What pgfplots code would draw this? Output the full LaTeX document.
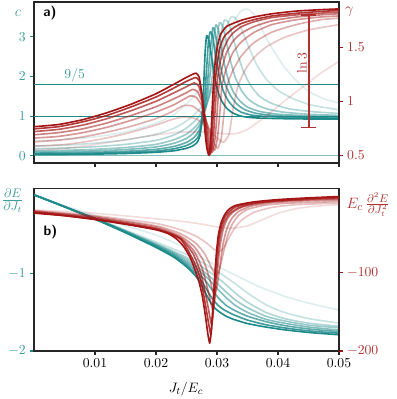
\documentclass[border=0pt]{standalone}
\usepackage{pgfplots}
\pgfplotsset{compat=1.18}

\definecolor{tealc}{HTML}{1E8A8A}
\definecolor{redc}{HTML}{A51515}
\definecolor{tealt}{HTML}{3E9C9C}
\definecolor{redt}{HTML}{B03030}

\pgfplotsset{
  panel/.style={
    width=244pt, scale only axis,
    xmin=0, xmax=50, xtick={10,20,30,40,50},
    tick align=outside, major tick length=3pt,
    axis line style={line width=1.1pt, black!85},
    x tick style={line width=0.9pt, black!85},
    ticklabel style={font=\fontsize{11}{13}\selectfont},
    clip mode=individual,
  },
  lefty/.style={xtick pos=bottom, ytick pos=left,
    y tick style={line width=0.9pt, tealc}, yticklabel style={text=tealt}},
  righty/.style={axis y line*=right, axis x line=none,
    y tick style={line width=0.9pt, redc}, yticklabel style={text=redt}},
  tc/.style={tealc, line width=1.3pt, opacity=#1, line join=round, smooth, tension=0.35},
  rc/.style={redc, line width=1.3pt, opacity=#1, line join=round, smooth, tension=0.35},
}

\begin{document}
\begin{tikzpicture}

% ---------- a) top panel, c (left) ----------
\begin{axis}[panel, lefty, at={(0,0)}, anchor=north west, height=128.8pt,
  ymin=-0.18, ymax=3.88, ytick={0,1,2,3}, xticklabels={}]
  \addplot[tealc, opacity=0.55, line width=0.8pt] coordinates {(0,0) (50,0)};
  \addplot[tealc, line width=0.8pt] coordinates {(0,1) (50,1)};
  \addplot[tealc, line width=0.8pt] coordinates {(0,1.8) (50,1.8)};

  \addplot[tc=0.15] coordinates {(0,0.38)(5,0.41)(10,0.48)(15,0.6)(20,0.82)(23,1.05)(25.6,1.4)(28,1.85)(30,2.4)(31.5,2.9)(32.8,3.4)(34,3.66)(35,3.7)(36,3.58)(37.2,3.25)(38.3,2.9)(39.5,2.6)(41,2.25)(43,1.9)(45,1.63)(47.5,1.44)(50,1.33)};
  \addplot[tc=0.25] coordinates {(0,0.25)(5,0.27)(10,0.32)(15,0.4)(20,0.54)(23,0.7)(25,0.88)(27,1.15)(28.5,1.5)(29.8,2.05)(30.8,2.7)(31.6,3.25)(32.3,3.5)(33,3.48)(34,3.2)(35.2,2.75)(36.5,2.3)(38,1.95)(40,1.65)(42.5,1.44)(45.5,1.28)(50,1.16)};
  \addplot[tc=0.35] coordinates {(0,0.18)(5,0.195)(10,0.23)(15,0.29)(20,0.39)(23,0.53)(25,0.7)(26.5,0.9)(28,1.2)(29.3,1.75)(30.2,2.5)(30.7,3.1)(31.2,3.42)(31.8,3.38)(32.5,3.05)(33.3,2.6)(34.3,2.15)(35.5,1.78)(37,1.5)(39,1.32)(42,1.18)(46,1.11)(50,1.07)};
  \addplot[tc=0.45] coordinates {(0,0.13)(5,0.14)(10,0.165)(15,0.21)(20,0.29)(23,0.41)(25,0.55)(26.5,0.74)(27.7,1.0)(28.7,1.5)(29.5,2.3)(30,2.95)(30.4,3.36)(30.9,3.28)(31.5,2.9)(32.2,2.4)(33,1.98)(34,1.65)(35.2,1.42)(36.7,1.27)(38.5,1.17)(41,1.1)(45,1.05)(50,1.02)};
  \addplot[tc=0.55] coordinates {(0,0.10)(5,0.11)(10,0.125)(15,0.16)(20,0.225)(23,0.32)(25,0.44)(26.3,0.6)(27.3,0.82)(28.2,1.25)(28.9,2.1)(29.4,2.9)(29.8,3.3)(30.2,3.2)(30.7,2.75)(31.3,2.25)(32,1.85)(32.8,1.58)(33.8,1.38)(35,1.23)(37,1.12)(40,1.05)(45,1.01)(50,0.99)};
  \addplot[tc=0.7] coordinates {(0,0.07)(5,0.075)(10,0.09)(15,0.115)(20,0.165)(23,0.24)(25,0.34)(26.2,0.46)(27,0.62)(27.7,0.95)(28.3,1.6)(28.8,2.5)(29.3,3.22)(29.7,3.1)(30.2,2.6)(30.8,2.1)(31.5,1.75)(32.3,1.5)(33.3,1.3)(34.5,1.17)(36.5,1.07)(40,1.01)(45,0.98)(50,0.97)};
  \addplot[tc=0.85] coordinates {(0,0.05)(5,0.055)(10,0.065)(15,0.085)(20,0.12)(23,0.18)(25,0.26)(26,0.34)(26.8,0.45)(27.4,0.7)(27.9,1.3)(28.3,2.2)(28.6,2.9)(28.9,3.13)(29.3,3.0)(29.8,2.5)(30.4,2.0)(31,1.65)(31.8,1.4)(32.8,1.22)(34,1.1)(36,1.02)(40,0.98)(45,0.96)(50,0.95)};
  \addplot[tc=1] coordinates {(0,0.03)(5,0.035)(10,0.045)(15,0.06)(20,0.09)(23,0.13)(25,0.19)(26,0.25)(26.7,0.33)(27.2,0.5)(27.5,0.9)(27.8,1.7)(28.05,2.6)(28.3,3.03)(28.7,2.9)(29.1,2.5)(29.6,2.0)(30.2,1.6)(30.8,1.38)(31.6,1.2)(32.6,1.08)(34,1.0)(36,0.96)(40,0.94)(45,0.93)(50,0.93)};

  \node[text=tealt, font=\fontsize{11}{13}\selectfont] at (axis cs:6.67,2.04) {$9/5$};
  \node[text=tealt, font=\fontsize{13}{15}\selectfont] at (rel axis cs:-0.0525,0.932) {$c$};
  \node[anchor=west, font=\sffamily\bfseries\fontsize{11}{13}\selectfont] at (rel axis cs:0.016,0.929) {a)};
\end{axis}

% ---------- a) top panel, gamma (right) ----------
\begin{axis}[panel, righty, at={(0,0)}, anchor=north west, height=128.8pt,
  ymin=0.429, ymax=1.919, ytick={0.5,1,1.5}, yticklabels={$0.5$,$1$,$1.5$}]
  \addplot[rc=0.15] coordinates {(0,0.55)(5,0.565)(10,0.6)(15,0.645)(20,0.69)(24,0.715)(28,0.715)(31,0.70)(33,0.70)(35,0.74)(38,0.86)(41,1.0)(44,1.13)(47,1.26)(50,1.37)};
  \addplot[rc=0.25] coordinates {(0,0.585)(5,0.60)(10,0.64)(15,0.70)(20,0.78)(22.5,0.83)(24.5,0.855)(26.5,0.84)(28,0.78)(29.5,0.69)(31.0,0.62)(32,0.70)(32.6,0.92)(33.4,1.135)(34.5,1.28)(36,1.40)(38,1.50)(41,1.59)(45,1.66)(50,1.71)};
  \addplot[rc=0.35] coordinates {(0,0.625)(4,0.64)(8,0.67)(12,0.715)(16,0.77)(20,0.84)(22.5,0.9)(24.5,0.96)(26,0.955)(27.5,0.89)(28.7,0.75)(29.5,0.62)(30.1,0.565)(30.7,0.66)(31.2,0.92)(31.6,1.135)(32.6,1.285)(34,1.42)(36,1.54)(39,1.64)(43,1.71)(47,1.755)(50,1.77)};
  \addplot[rc=0.45] coordinates {(0,0.66)(4,0.675)(8,0.71)(12,0.76)(16,0.825)(20,0.90)(23,0.97)(25.6,1.05)(26.6,1.035)(27.5,0.96)(28.3,0.81)(29.0,0.64)(29.6,0.545)(30.1,0.67)(30.5,0.92)(30.8,1.135)(31.4,1.28)(32.6,1.45)(34,1.55)(36,1.635)(39,1.71)(43,1.755)(47,1.78)(50,1.79)};
  \addplot[rc=0.55] coordinates {(0,0.69)(4,0.71)(8,0.745)(12,0.80)(16,0.87)(20,0.95)(23,1.025)(25,1.08)(26,1.11)(26.8,1.09)(27.5,1.0)(28.1,0.84)(28.7,0.65)(29.25,0.53)(29.65,0.64)(30.0,0.88)(30.3,1.135)(30.8,1.30)(31.5,1.44)(32.6,1.555)(34,1.63)(36,1.69)(39,1.745)(43,1.78)(47,1.8)(50,1.81)};
  \addplot[rc=0.7] coordinates {(0,0.72)(4,0.74)(8,0.78)(12,0.84)(16,0.915)(20,1.0)(23,1.08)(25,1.135)(26.3,1.17)(27.0,1.14)(27.6,1.02)(28.1,0.82)(28.5,0.64)(29.0,0.52)(29.35,0.63)(29.65,0.88)(29.95,1.135)(30.4,1.33)(31,1.47)(31.8,1.57)(32.6,1.63)(34,1.69)(36,1.735)(39,1.775)(43,1.80)(47,1.816)(50,1.825)};
  \addplot[rc=0.85] coordinates {(0,0.745)(4,0.765)(8,0.81)(12,0.87)(16,0.95)(20,1.04)(23,1.125)(25,1.185)(26,1.21)(26.5,1.22)(27.1,1.19)(27.6,1.04)(28.0,0.8)(28.4,0.6)(28.85,0.51)(29.15,0.66)(29.4,0.90)(29.65,1.135)(30,1.34)(30.5,1.50)(31.2,1.60)(32.6,1.675)(34,1.72)(36,1.755)(39,1.79)(43,1.815)(47,1.832)(50,1.84)};
  \addplot[rc=1] coordinates {(0,0.765)(4,0.785)(8,0.83)(12,0.895)(16,0.975)(20,1.07)(23,1.16)(25,1.222)(26,1.25)(26.6,1.26)(27.1,1.22)(27.5,1.06)(27.9,0.8)(28.3,0.58)(28.7,0.50)(29.0,0.68)(29.2,0.92)(29.4,1.135)(29.7,1.36)(30.1,1.52)(30.6,1.62)(31.5,1.69)(32.6,1.72)(34,1.75)(36,1.78)(39,1.81)(43,1.835)(47,1.848)(50,1.855)};

  % ln 3 bar
  \addplot[redt, line width=1.2pt] coordinates {(45.08,0.756) (45.08,1.80)};
  \addplot[redt, line width=1.2pt] coordinates {(43.85,0.756) (46.31,0.756)};
  \addplot[redt, line width=1.2pt] coordinates {(43.85,1.80) (46.31,1.80)};
  \node[text=redt, rotate=90, font=\fontsize{11}{13}\selectfont] at (axis cs:43.9,1.352) {$\ln 3$};
  \node[text=redt, font=\fontsize{13}{15}\selectfont] at (rel axis cs:1.034,0.938) {$\gamma$};
\end{axis}

% ---------- b) bottom panel, dE/dJ (left) ----------
\begin{axis}[panel, lefty, at={(0,-149pt)}, anchor=north west, height=130.2pt,
  ymin=-2, ymax=0.105, ytick={-1,-2},
  xticklabels={$0.01$,$0.02$,$0.03$,$0.04$,$0.05$}]
  \addplot[tc=0.15] coordinates {(0,0.02)(5,-0.12)(10,-0.25)(15,-0.38)(20,-0.5)(23,-0.6)(25,-0.68)(27.2,-0.78)(30,-0.9)(33,-1.02)(37,-1.17)(41,-1.29)(45,-1.38)(50,-1.47)};
  \addplot[tc=0.25] coordinates {(0,0.02)(5,-0.13)(10,-0.28)(15,-0.435)(20,-0.59)(23,-0.685)(25,-0.75)(27,-0.83)(29,-0.92)(31,-1.02)(33,-1.13)(35,-1.25)(38,-1.4)(41,-1.5)(45,-1.58)(50,-1.64)};
  \addplot[tc=0.35] coordinates {(0,0.02)(5,-0.131)(10,-0.283)(15,-0.445)(20,-0.61)(23,-0.715)(25,-0.79)(27,-0.885)(29,-0.99)(31,-1.11)(33,-1.25)(35,-1.37)(38,-1.5)(41,-1.58)(45,-1.64)(50,-1.68)};
  \addplot[tc=0.45] coordinates {(0,0.02)(5,-0.132)(10,-0.285)(15,-0.45)(20,-0.62)(23,-0.73)(25,-0.815)(27,-0.925)(29,-1.05)(31,-1.2)(33,-1.34)(35,-1.44)(38,-1.55)(41,-1.61)(45,-1.665)(50,-1.70)};
  \addplot[tc=0.55] coordinates {(0,0.02)(5,-0.133)(10,-0.288)(15,-0.455)(20,-0.63)(23,-0.745)(25,-0.84)(27,-0.96)(28.5,-1.06)(30,-1.19)(31.5,-1.31)(33,-1.41)(35,-1.5)(38,-1.59)(41,-1.64)(45,-1.69)(50,-1.73)};
  \addplot[tc=0.7] coordinates {(0,0.02)(5,-0.134)(10,-0.29)(15,-0.46)(20,-0.64)(23,-0.76)(25,-0.865)(26.5,-0.965)(28,-1.08)(29.3,-1.22)(30.3,-1.32)(31.5,-1.41)(33,-1.48)(35,-1.55)(38,-1.62)(41,-1.67)(45,-1.715)(50,-1.75)};
  \addplot[tc=0.85] coordinates {(0,0.02)(5,-0.135)(10,-0.293)(15,-0.465)(20,-0.65)(23,-0.775)(25,-0.89)(26.5,-1.0)(27.5,-1.1)(28.5,-1.23)(29.3,-1.33)(30.2,-1.41)(31.2,-1.47)(32.7,-1.53)(35,-1.6)(38,-1.66)(41,-1.7)(45,-1.74)(50,-1.77)};
  \addplot[tc=1] coordinates {(0,0.02)(5,-0.135)(10,-0.295)(15,-0.47)(20,-0.66)(23,-0.79)(25,-0.91)(26.5,-1.03)(27.5,-1.15)(28.3,-1.28)(29,-1.38)(29.7,-1.45)(30.5,-1.5)(31.5,-1.55)(32.7,-1.59)(35,-1.645)(38,-1.69)(41,-1.725)(45,-1.76)(50,-1.79)};

  \node[text=tealt, font=\fontsize{14}{16}\selectfont] at (rel axis cs:-0.07,0.925) {$\frac{\partial E}{\partial J_t}$};
  \node[anchor=west, font=\sffamily\bfseries\fontsize{11}{13}\selectfont] at (rel axis cs:0.017,0.728) {b)};
  \node[font=\fontsize{11}{13}\selectfont] at (rel axis cs:0.498,-0.234) {$J_t/E_c$};
\end{axis}

% ---------- b) bottom panel, d2E/dJ2 (right) ----------
\begin{axis}[panel, righty, at={(0,-149pt)}, anchor=north west, height=130.2pt,
  ymin=-200, ymax=8, ytick={-100,-200}]
  \addplot[rc=0.15] coordinates {(0,-19.5)(10,-24)(20,-31)(25,-35)(28,-38.5)(30,-41.5)(32.5,-43)(35,-40)(37.5,-32)(40,-24)(43,-18)(46,-15)(50,-13)};
  \addplot[rc=0.25] coordinates {(0,-20.5)(10,-27)(20,-37)(24,-45)(26.5,-53)(28.3,-62)(29.5,-70)(30.3,-73)(31.0,-69)(31.8,-58)(32.8,-44)(34,-33)(36,-23)(39,-16.5)(43,-13)(50,-11)};
  \addplot[rc=0.35] coordinates {(0,-21)(10,-28)(20,-40)(24,-50)(26.5,-62)(28,-76)(29,-92)(29.8,-103)(30.4,-96)(31,-76)(31.7,-54)(32.5,-38)(33.5,-27)(35,-19)(38,-13.5)(42,-11)(50,-9)};
  \addplot[rc=0.45] coordinates {(0,-21.5)(10,-29)(20,-41.5)(24,-53)(26.3,-67)(27.8,-85)(28.8,-108)(29.5,-128)(30.0,-118)(30.5,-90)(31.0,-63)(31.6,-44)(32.4,-31)(33.5,-22)(35.5,-15)(39,-10.5)(44,-8.2)(50,-7)};
  \addplot[rc=0.55] coordinates {(0,-22)(10,-30)(20,-43)(24,-55)(26.2,-72)(27.6,-95)(28.6,-125)(29.3,-147)(29.7,-130)(30.1,-95)(30.5,-66)(31.0,-45)(31.7,-31)(32.7,-22)(34.5,-15)(38,-10)(43,-7.2)(50,-5.5)};
  \addplot[rc=0.7] coordinates {(0,-22.5)(10,-31)(20,-44)(24,-56)(26.1,-76)(27.4,-102)(28.4,-138)(29.1,-166)(29.45,-145)(29.8,-108)(30.2,-72)(30.6,-50)(31.2,-35)(32,-25)(33.5,-17)(36,-11.5)(40,-8)(45,-6)(50,-4.5)};
  \addplot[rc=0.85] coordinates {(0,-23)(10,-31.5)(20,-44.5)(24,-57)(26.1,-84)(27.3,-108)(28.2,-145)(28.95,-178)(29.25,-158)(29.55,-118)(29.9,-80)(30.3,-55)(30.8,-38)(31.5,-26)(33,-16)(36,-10.5)(40,-7.5)(45,-5)(50,-3.5)};
  \addplot[rc=1] coordinates {(0,-23.8)(5,-27)(10,-32)(15,-38)(20,-45)(22,-50)(23.4,-57)(24.5,-66)(25.5,-79)(26.1,-90)(27.0,-110)(27.6,-130)(28.1,-155)(28.5,-178)(28.8,-190)(29.05,-176)(29.3,-148)(29.6,-110)(29.9,-76)(30.2,-53)(30.6,-38)(31.1,-28)(31.8,-20)(33,-14)(36,-9.5)(40,-6.5)(45,-4.3)(50,-2.6)};

  \node[anchor=west, text=redt, font=\fontsize{13}{15}\selectfont, inner sep=1pt] at (rel axis cs:1.02,0.9) {$E_c\,\frac{\partial^2 E}{\partial J_t^2}$};
\end{axis}

\pgfresetboundingbox
\path[use as bounding box] (-27.2pt,1.6pt) rectangle (289.6pt,-317.6pt);
\end{tikzpicture}
\end{document}
